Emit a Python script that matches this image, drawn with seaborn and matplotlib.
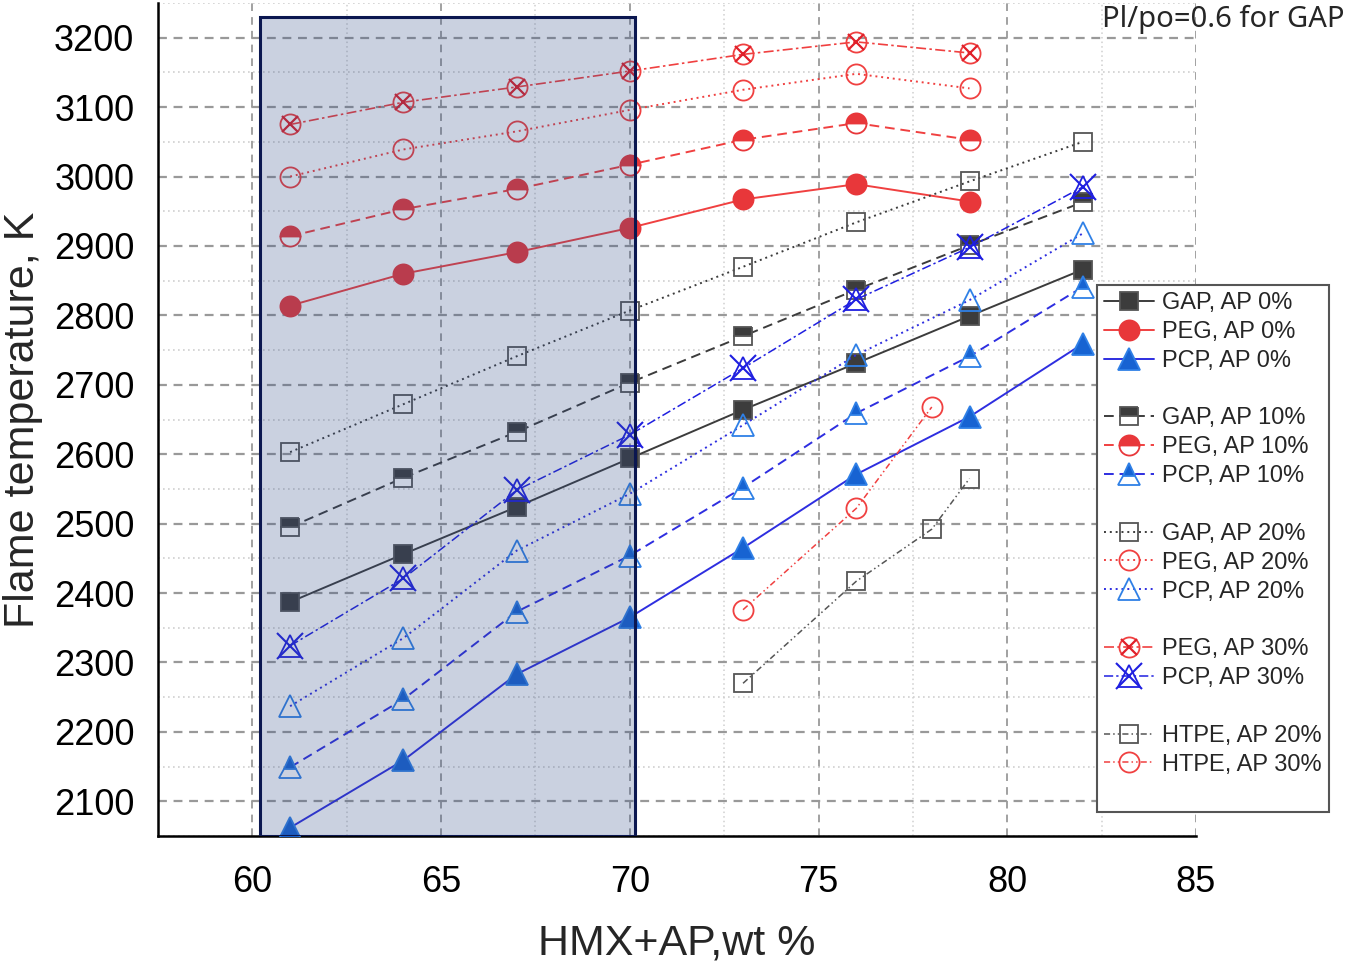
import matplotlib
matplotlib.use("Agg")
import matplotlib.pyplot as plt
import seaborn as sns
from matplotlib.lines import Line2D
from matplotlib.patches import Rectangle
from matplotlib.legend_handler import HandlerTuple
from matplotlib.ticker import MultipleLocator

# ---------------- data ----------------
x_gap = [61, 64, 67, 70, 73, 76, 79, 82]
gap_ap0 = [2387, 2456, 2524, 2594, 2664, 2731, 2799, 2866]
gap_ap10 = [2495, 2566, 2632, 2703, 2770, 2837, 2901, 2963]
gap_ap20 = [2603, 2672, 2741, 2807, 2870, 2934, 2993, 3050]

x_peg = [61, 64, 67, 70, 73, 76, 79]
peg_ap0 = [2814, 2860, 2891, 2926, 2967, 2989, 2964]
peg_ap10 = [2914, 2953, 2982, 3017, 3053, 3077, 3053]
peg_ap20 = [3000, 3039, 3065, 3096, 3125, 3148, 3127]
peg_ap30 = [3075, 3107, 3129, 3152, 3176, 3194, 3178]

x_pcp = [61, 64, 67, 70, 73, 76, 79, 82]
pcp_ap0 = [2062, 2159, 2283, 2365, 2465, 2571, 2654, 2759]
pcp_ap10 = [2149, 2247, 2373, 2454, 2552, 2659, 2741, 2841]
pcp_ap20 = [2237, 2335, 2461, 2543, 2642, 2743, 2822, 2918]
pcp_ap30 = [2324, 2421, 2548, 2628, 2724, 2823, 2898, 2985]

x_htpe20 = [73, 76, 78, 79]
htpe_ap20 = [2270, 2417, 2492, 2565]
x_htpe30 = [73, 76, 78]
htpe_ap30 = [2376, 2522, 2668]

x_ticks = [60, 65, 70, 75, 80, 85]
y_ticks = [2100, 2200, 2300, 2400, 2500, 2600, 2700, 2800, 2900, 3000, 3100, 3200]

# ---------------- style ----------------
sns.set_style("white")
plt.rcParams['font.family'] = ['Liberation Sans', 'DejaVu Sans']

fig = plt.figure(figsize=(13.51, 9.72), dpi=100)
ax = fig.add_axes([158/1351, 1-836/972, (1196-158)/1351, (836-3)/972])

GREY = '#3c3c3c'
GREY_L = '#555555'
RED = '#e8373a'
RED_L = '#f04040'
BLUE_L = '#2e2ee0'
BLUE_M = '#1763d2'
BLUE_E = '#2f80e6'
BLUE_X = '#1f1fe0'

DASH = (0, (5, 3))
DOT = (0, (1, 2))
DASHDOT = (0, (6, 2, 1.5, 2))
DDOT = (0, (4, 2, 1, 2, 1, 2))

LW = 1.4

def series(x, y, lc, ls, marker, ms, mfc, mec, fill='full', lw=LW, mew=1.3, z=3):
    sns.lineplot(x=x, y=y, ax=ax, color=lc, linestyle=ls, linewidth=lw,
                 marker=marker, markersize=ms, markerfacecolor=mfc,
                 markeredgecolor=mec, markeredgewidth=mew, fillstyle=fill,
                 markerfacecoloralt='white', zorder=z, legend=False)
    return Line2D([], [], color=lc, linestyle=ls, linewidth=lw, marker=marker,
                  markersize=ms, markerfacecolor=mfc, markeredgecolor=mec,
                  markeredgewidth=mew, fillstyle=fill, markerfacecoloralt='white')

h_gap0 = series(x_gap, gap_ap0, GREY, '-', 's', 13, GREY, GREY_L)
h_peg0 = series(x_peg, peg_ap0, RED_L, '-', 'o', 14.5, RED, RED)
h_pcp0 = series(x_pcp, pcp_ap0, BLUE_L, '-', '^', 15.5, BLUE_M, BLUE_E)

h_gap10 = series(x_gap, gap_ap10, GREY, DASH, 's', 13, GREY, GREY_L, fill='top')
h_peg10 = series(x_peg, peg_ap10, RED_L, DASH, 'o', 14.5, RED, RED, fill='top')
h_pcp10 = series(x_pcp, pcp_ap10, BLUE_L, DASH, '^', 15.5, BLUE_M, BLUE_E, fill='top')

h_gap20 = series(x_gap, gap_ap20, GREY, DOT, 's', 13, 'none', GREY_L)
h_peg20 = series(x_peg, peg_ap20, RED_L, DOT, 'o', 14.5, 'none', RED_L)
h_pcp20 = series(x_pcp, pcp_ap20, BLUE_L, DOT, '^', 15.5, 'none', BLUE_E)

h_peg30a = series(x_peg, peg_ap30, RED_L, DASHDOT, 'o', 14.5, 'none', RED_L, lw=1.2)
h_peg30b = series(x_peg, peg_ap30, RED_L, 'none', 'x', 12, 'none', '#e0202a', lw=0, mew=1.6, z=4)
h_pcp30a = series(x_pcp, pcp_ap30, BLUE_X, DASHDOT, '^', 15.5, 'none', BLUE_X, lw=1.1)
h_pcp30b = series(x_pcp, pcp_ap30, BLUE_X, 'none', 'x', 19, 'none', BLUE_X, lw=0, mew=1.5, z=4)

h_htpe20 = series(x_htpe20, htpe_ap20, GREY_L, DDOT, 's', 13, 'none', GREY_L, lw=1.1)
h_htpe30 = series(x_htpe30, htpe_ap30, RED_L, DDOT, 'o', 14.5, 'none', RED_L, lw=1.1)

# shaded region (drawn over data, semi-transparent)
rect = Rectangle((60.2, 2050), 70.15 - 60.2, 3230 - 2050,
                 facecolor=(47/255, 75/255, 135/255, 0.25),
                 edgecolor='#0b1750', linewidth=2.2, zorder=6)
ax.add_patch(rect)

# ---------------- axes ----------------
ax.set_xlim(57.5, 85)
ax.set_ylim(2050, 3250)
ax.set_xticks(x_ticks)
ax.set_yticks(y_ticks)
ax.xaxis.set_minor_locator(MultipleLocator(2.5))
ax.yaxis.set_minor_locator(MultipleLocator(50))

for s in ['top', 'right']:
    ax.spines[s].set_visible(False)
for s in ['left', 'bottom']:
    ax.spines[s].set_linewidth(1.8)
    ax.spines[s].set_color('black')
ax.spines['bottom'].set_bounds(57.5, 85)

ax.tick_params(axis='both', which='major', direction='out', length=11, width=1.8,
               labelsize=26, pad=6, colors='black')
ax.tick_params(axis='both', which='minor', direction='out', length=5.5, width=1.8)
ax.tick_params(axis='x', which='major', pad=10)

ax.grid(False)
ax.grid(axis='y', which='major', linestyle=(0, (4, 3)), color='#999999', linewidth=1.6, zorder=0)
ax.grid(axis='y', which='minor', linestyle=(0, (1, 2)), color='#d0d0d0', linewidth=1.2, zorder=0)
ax.grid(axis='x', which='major', linestyle=(0, (5, 4)), color='#888888', linewidth=1.1, zorder=0)
ax.grid(axis='x', which='minor', linestyle=(0, (1, 2)), color='#d0d0d0', linewidth=1.1, zorder=0)
ax.set_axisbelow(True)

ax.set_xlabel('HMX+AP,wt %', fontsize=31, labelpad=17)
ax.set_ylabel('Flame temperature, K', fontsize=31, labelpad=8)

fig.text(1345/1351, 1 - 5/972, 'Pl/po=0.6 for GAP', ha='right', va='top',
         fontsize=21, family=['Noto Sans', 'DejaVu Sans'])

# ---------------- legend ----------------
blank = Line2D([], [], linestyle='none', marker=None)
handles = [h_gap0, h_peg0, h_pcp0, blank,
           h_gap10, h_peg10, h_pcp10, blank,
           h_gap20, h_peg20, h_pcp20, blank,
           (h_peg30a, h_peg30b), (h_pcp30a, h_pcp30b), blank,
           h_htpe20, h_htpe30, blank]
labels = ['GAP, AP 0%', 'PEG, AP 0%', 'PCP, AP 0%', '',
          'GAP, AP 10%', 'PEG, AP 10%', 'PCP, AP 10%', '',
          'GAP, AP 20%', 'PEG, AP 20%', 'PCP, AP 20%', '',
          'PEG, AP 30%', 'PCP, AP 30%', '',
          'HTPE, AP 20%', 'HTPE, AP 30%', '']
leg = fig.legend(handles, labels, loc='upper left',
                 bbox_to_anchor=(1097/1351, 1 - 285/972),
                 bbox_transform=fig.transFigure,
                 fontsize=17, frameon=True, fancybox=False, framealpha=1,
                 edgecolor='#555555', handlelength=2.1, handletextpad=0.35,
                 borderpad=0.3, labelspacing=0.29, borderaxespad=0,
                 handler_map={tuple: HandlerTuple(ndivide=1)})
leg.get_frame().set_linewidth(1.5)

fig.savefig('out.png', dpi=100)
